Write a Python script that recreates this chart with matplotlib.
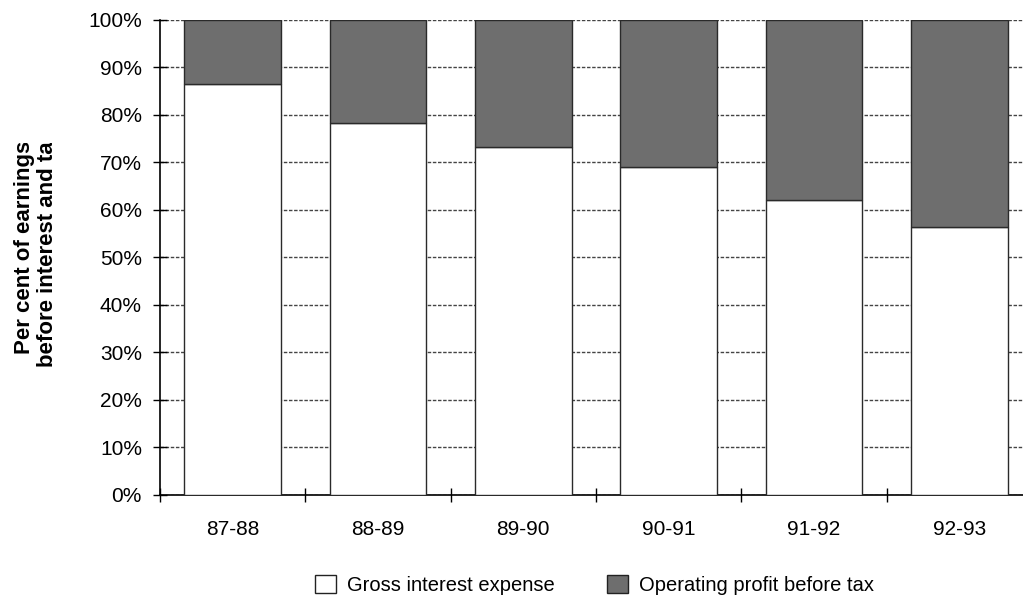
import matplotlib.pyplot as plt
import matplotlib.patches as mpatches
import numpy as np

plt.rcParams['font.family'] = ['Liberation Sans', 'DejaVu Sans']

periods = ['87-88', '88-89', '89-90', '90-91', '91-92', '92-93']
interest = [86.5, 78.3, 73.3, 69.0, 62.1, 56.4]
profit = [100 - v for v in interest]
yticks = [0, 10, 20, 30, 40, 50, 60, 70, 80, 90, 100]

fig = plt.figure(figsize=(10.23, 6), dpi=100)
ax = fig.add_axes([0.1564, 0.175, 0.8524, 0.7917])

x = np.arange(len(periods))
width = 0.667

ax.bar(x, interest, width, color='white', edgecolor='#2a2a2a', linewidth=1, zorder=3)
ax.bar(x, profit, width, bottom=interest, color='#6e6e6e', edgecolor='#2a2a2a',
       linewidth=1, zorder=3)

ax.set_xlim(-0.5, len(periods) - 0.5)
ax.set_ylim(0, 100)
ax.set_yticks(yticks)
ax.set_yticklabels([f'{v}%' for v in yticks], fontsize=15)
ax.yaxis.grid(True, linestyle=(0, (2.5, 1.2)), color='#444444', linewidth=1, zorder=0)

ax.set_xticks(np.arange(len(periods) + 1) - 0.5)
ax.set_xticklabels([])
ax.set_xticks(x, minor=True)
ax.set_xticklabels(periods, minor=True, fontsize=15)
ax.tick_params(axis='x', which='minor', length=0, pad=18)
ax.tick_params(axis='x', which='major', direction='inout', length=10, width=1)
ax.tick_params(axis='y', direction='inout', length=10, width=1, pad=8)

ax.spines['top'].set_visible(False)
ax.spines['right'].set_visible(False)
ax.spines['left'].set_linewidth(1.2)
ax.spines['bottom'].set_linewidth(1.2)

lbl = fig.text(0.035, 0.587, 'Per cent of earnings\nbefore interest and tax',
               rotation=90, ha='center', va='center', fontsize=16,
               fontweight='bold', linespacing=1.1)
clip = mpatches.Rectangle((0, 0), 0.15, 1 - 143 / 600, transform=fig.transFigure,
                          visible=False)
fig.add_artist(clip)
lbl.set_clip_path(clip)

handles = [mpatches.Patch(facecolor='white', edgecolor='#222222', label='Gross interest expense'),
           mpatches.Patch(facecolor='#6e6e6e', edgecolor='#222222', label='Operating profit before tax')]
fig.legend(handles=handles, loc='center', bbox_to_anchor=(0.581, 0.025), ncol=2,
           frameon=False, fontsize=14.5, handlelength=1.03, handleheight=1.0,
           columnspacing=2.6, handletextpad=0.55, borderpad=0)

fig.savefig('out.png', dpi=100)
